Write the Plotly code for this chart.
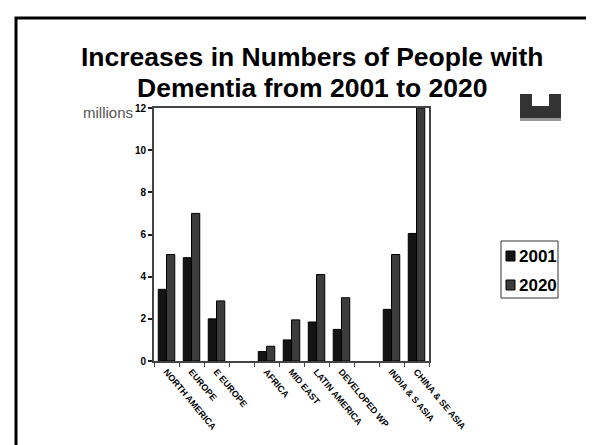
import plotly.graph_objects as go

# regions (blank entries are the empty gaps on the category axis)
regions = ['NORTH AMERICA', 'EUROPE', 'E EUROPE', ' ', 'AFRICA', 'MID EAST',
           'LATIN AMERICA', 'DEVELOPED WP', '  ', 'INDIA & S ASIA', 'CHINA & SE ASIA']
y2001 = [3.4, 4.9, 2.0, None, 0.45, 1.0, 1.85, 1.5, None, 2.45, 6.05]
y2020 = [5.05, 7.0, 2.85, None, 0.7, 1.95, 4.1, 3.0, None, 5.05, 12.0]
years = ['2001', '2020']
colors = ['#141414', '#3c3c3c']
ytick_vals = [0, 2, 4, 6, 8, 10, 12]

W, H = 594, 445
L, R, T, B = 146, 421, 100, 353  # plot area in pixels


def px(x):
    return (x - L) / (R - L)


def py(y):
    return (B - y) / (B - T)


fig = go.Figure()
for name, vals, col in zip(years, [y2001, y2020], colors):
    fig.add_trace(go.Bar(x=regions, y=vals, name=name,
                         marker=dict(color=col, line=dict(color='black', width=1))))

fig.update_layout(
    width=W, height=H,
    margin=dict(l=L, r=W - R, t=T, b=H - B),
    paper_bgcolor='white', plot_bgcolor='white',
    barmode='group', bargap=0.34, bargroupgap=0,
    font=dict(family='Liberation Sans, Arial, sans-serif', color='black'),
    showlegend=False,
)

fig.update_xaxes(
    type='category', showline=True, linecolor='#444', linewidth=2, mirror=True,
    ticks='outside', tickson='boundaries', ticklen=4, tickcolor='#444',
    tickangle=50, tickfont=dict(size=9, family='Liberation Sans Narrow, Arial'),
    ticktext=[f'<b>{r}</b>' for r in regions], tickvals=regions,
    showgrid=False,
)
fig.update_yaxes(
    range=[0, 12], tickvals=ytick_vals, ticktext=[f'<b>{v}</b>' for v in ytick_vals],
    showline=True, linecolor='#444', linewidth=2, mirror=True,
    ticks='outside', ticklen=4, tickwidth=2, tickcolor='#222',
    tickfont=dict(size=10, family='Liberation Sans Narrow, Arial'),
    showgrid=False, zeroline=False,
)

# title, two lines
for line, yc in [('Increases in Numbers of People with', 49),
                 ('Dementia from 2001 to 2020', 80)]:
    fig.add_annotation(text=f'<b>{line}</b>', xref='paper', yref='paper',
                       x=px(304), y=py(yc), xanchor='center', yanchor='middle',
                       showarrow=False, font=dict(size=26.5, color='black'))

fig.add_annotation(text='millions', xref='paper', yref='paper', x=px(127), y=py(104),
                   xanchor='right', yanchor='middle', showarrow=False,
                   font=dict(size=15, color='#555'))

shapes = [
    # slide border (open on right and bottom)
    dict(type='rect', xref='paper', yref='paper', x0=px(8), x1=px(610),
         y0=py(460), y1=py(10), line=dict(color='black', width=3)),
    # small logo in the corner
    dict(type='rect', xref='paper', yref='paper', x0=px(512), x1=px(553),
         y0=py(113), y1=py(86), fillcolor='#333', line=dict(width=0)),
    dict(type='rect', xref='paper', yref='paper', x0=px(524), x1=px(541),
         y0=py(98), y1=py(86), fillcolor='white', line=dict(width=0)),
    dict(type='rect', xref='paper', yref='paper', x0=px(512), x1=px(553),
         y0=py(113), y1=py(110), fillcolor='#999', line=dict(width=0)),
    # legend box
    dict(type='rect', xref='paper', yref='paper', x0=px(493), x1=px(550),
         y0=py(290), y1=py(233), fillcolor='white', line=dict(color='#333', width=1)),
]
# legend entries drawn by hand
for i, (name, col) in enumerate(zip(years, colors)):
    yc = 248 + 29 * i
    shapes.append(dict(type='rect', xref='paper', yref='paper',
                       x0=px(498), x1=px(507), y0=py(yc + 5), y1=py(yc - 5),
                       fillcolor=col, line=dict(color='black', width=1)))
    fig.add_annotation(text=f'<b>{name}</b>', xref='paper', yref='paper',
                       x=px(509), y=py(yc), xanchor='left', yanchor='middle',
                       showarrow=False,
                       font=dict(size=17, family='Liberation Sans Narrow, Arial'))
fig.update_layout(shapes=shapes)

fig.write_html('out.html')
